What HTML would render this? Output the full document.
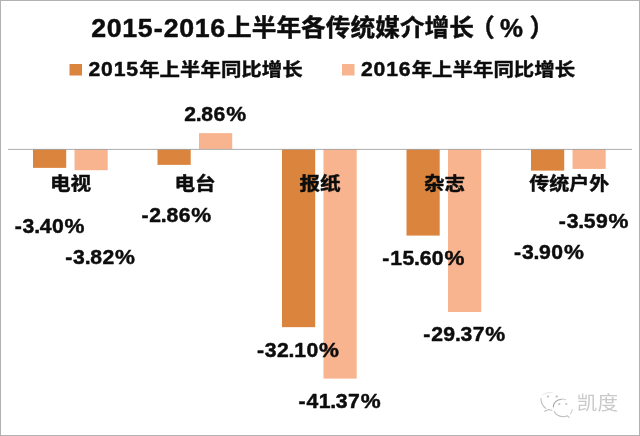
<!DOCTYPE html>
<html lang="zh"><head><meta charset="utf-8"><title>2015-2016上半年各传统媒介增长（%）</title>
<style>html,body{margin:0;padding:0;background:#fff;}svg{display:block;}text{font-family:"Liberation Sans","Noto Sans CJK SC",sans-serif;font-weight:bold;fill:#0d0d0d;}.wm{font-weight:400;fill:#c9c9c9;}</style></head><body>
<svg width="640" height="436" viewBox="0 0 640 436">
<rect x="0" y="0" width="640" height="436" fill="#ffffff"/>
<rect x="0.5" y="0.5" width="639" height="435" fill="none" stroke="#b2b2b2" stroke-width="1"/>
<rect x="33.00" y="149.00" width="33.20" height="18.87" fill="#DB843D"/>
<rect x="74.50" y="149.00" width="33.20" height="21.20" fill="#F8B48E"/>
<rect x="157.50" y="149.00" width="33.20" height="15.87" fill="#DB843D"/>
<rect x="199.00" y="133.13" width="33.20" height="15.87" fill="#F8B48E"/>
<rect x="282.00" y="149.00" width="33.20" height="178.16" fill="#DB843D"/>
<rect x="323.50" y="149.00" width="33.20" height="229.60" fill="#F8B48E"/>
<rect x="406.50" y="149.00" width="33.20" height="86.58" fill="#DB843D"/>
<rect x="448.00" y="149.00" width="33.20" height="163.00" fill="#F8B48E"/>
<rect x="531.00" y="149.00" width="33.20" height="21.64" fill="#DB843D"/>
<rect x="572.50" y="149.00" width="33.20" height="19.92" fill="#F8B48E"/>
<rect x="8" y="148.9" width="624" height="0.9" fill="#a3a3a3"/>
<rect x="69.5" y="64" width="12.5" height="11.5" fill="#DB843D"/>
<rect x="342" y="64" width="12.5" height="11.5" fill="#F8B48E"/>
<text transform="translate(0 36.5) scale(1.07 1.03)" x="85.34 99.82 114.30 128.79 143.69 153.02 167.50 181.99 196.47" y="0" font-size="25" stroke="#0d0d0d" stroke-width="0.45" stroke-linejoin="round">2015-2016</text>
<text transform="translate(227 36) scale(1 0.95)" font-size="24.7" textLength="247.00" lengthAdjust="spacingAndGlyphs" stroke="#0d0d0d" stroke-width="0.45" stroke-linejoin="round">上半年各传统媒介增长</text>
<text transform="translate(470 36.5) scale(1 1)" font-size="24.7" stroke="#0d0d0d" stroke-width="0.45" stroke-linejoin="round">（</text>
<text transform="translate(500 36.5) scale(1 1)" font-size="25.5" textLength="23.00" lengthAdjust="spacingAndGlyphs" stroke="#0d0d0d" stroke-width="0.45" stroke-linejoin="round">%</text>
<text transform="translate(529.5 36.5) scale(1 1)" font-size="24.7" stroke="#0d0d0d" stroke-width="0.45" stroke-linejoin="round">）</text>
<text transform="translate(0 75.5) scale(1.06 1.0)" x="83.41 95.31 107.22 119.12" y="0" font-size="20" stroke="#0d0d0d" stroke-width="0.45" stroke-linejoin="round">2015</text>
<text transform="translate(139.2 76) scale(1 0.89)" font-size="20.3" textLength="163.40" lengthAdjust="spacingAndGlyphs" stroke="#0d0d0d" stroke-width="0.45" stroke-linejoin="round">年上半年同比增长</text>
<text transform="translate(0 75.5) scale(1.06 1.0)" x="340.49 352.39 364.29 376.20" y="0" font-size="20" stroke="#0d0d0d" stroke-width="0.45" stroke-linejoin="round">2016</text>
<text transform="translate(411.7 76) scale(1 0.89)" font-size="20.3" textLength="163.40" lengthAdjust="spacingAndGlyphs" stroke="#0d0d0d" stroke-width="0.45" stroke-linejoin="round">年上半年同比增长</text>
<text transform="translate(70.5 190) scale(1.03 0.92)" font-size="20" text-anchor="middle" stroke="#0d0d0d" stroke-width="0.45" stroke-linejoin="round">电视</text>
<text transform="translate(195.0 190) scale(1.03 0.92)" font-size="20" text-anchor="middle" stroke="#0d0d0d" stroke-width="0.45" stroke-linejoin="round">电台</text>
<text transform="translate(320.0 190) scale(1.03 0.92)" font-size="20" text-anchor="middle" stroke="#0d0d0d" stroke-width="0.45" stroke-linejoin="round">报纸</text>
<text transform="translate(444.6 190) scale(1.03 0.92)" font-size="20" text-anchor="middle" stroke="#0d0d0d" stroke-width="0.45" stroke-linejoin="round">杂志</text>
<text transform="translate(569.3 190) scale(1.0 0.92)" font-size="20" text-anchor="middle" stroke="#0d0d0d" stroke-width="0.45" stroke-linejoin="round">传统户外</text>
<text transform="translate(0 233) scale(1.06 1.0)" x="13.91 21.35 32.22 37.53 49.09" y="0" font-size="20" stroke="#0d0d0d" stroke-width="0.45" stroke-linejoin="round">-3.40</text>
<text transform="translate(64.59 233) scale(1.12 1.0)" font-size="20" stroke="#0d0d0d" stroke-width="0.45" stroke-linejoin="round">%</text>
<text transform="translate(0 263.75) scale(1.06 1.0)" x="61.55 68.99 79.86 85.17 96.73" y="0" font-size="20" stroke="#0d0d0d" stroke-width="0.45" stroke-linejoin="round">-3.82</text>
<text transform="translate(115.09 263.75) scale(1.12 1.0)" font-size="20" stroke="#0d0d0d" stroke-width="0.45" stroke-linejoin="round">%</text>
<text transform="translate(0 221.6) scale(1.06 1.0)" x="133.44 140.88 151.75 157.06 168.61" y="0" font-size="20" stroke="#0d0d0d" stroke-width="0.45" stroke-linejoin="round">-2.86</text>
<text transform="translate(191.29 221.6) scale(1.12 1.0)" font-size="20" stroke="#0d0d0d" stroke-width="0.45" stroke-linejoin="round">%</text>
<text transform="translate(0 120.7) scale(1.06 1.0)" x="173.76 184.63 189.94 201.49" y="0" font-size="20" stroke="#0d0d0d" stroke-width="0.45" stroke-linejoin="round">2.86</text>
<text transform="translate(226.14 120.7) scale(1.12 1.0)" font-size="20" stroke="#0d0d0d" stroke-width="0.45" stroke-linejoin="round">%</text>
<text transform="translate(0 357.3) scale(1.06 1.0)" x="242.40 249.84 261.40 272.27 277.58 289.13" y="0" font-size="20" stroke="#0d0d0d" stroke-width="0.45" stroke-linejoin="round">-32.10</text>
<text transform="translate(319.04 357.3) scale(1.12 1.0)" font-size="20" stroke="#0d0d0d" stroke-width="0.45" stroke-linejoin="round">%</text>
<text transform="translate(0 408.3) scale(1.06 1.0)" x="281.65 289.09 300.64 311.51 316.82 328.38" y="0" font-size="20" stroke="#0d0d0d" stroke-width="0.45" stroke-linejoin="round">-41.37</text>
<text transform="translate(360.64 408.3) scale(1.12 1.0)" font-size="20" stroke="#0d0d0d" stroke-width="0.45" stroke-linejoin="round">%</text>
<text transform="translate(0 264.7) scale(1.06 1.0)" x="360.70 368.14 379.70 390.57 395.88 407.44" y="0" font-size="20" stroke="#0d0d0d" stroke-width="0.45" stroke-linejoin="round">-15.60</text>
<text transform="translate(444.44 264.7) scale(1.12 1.0)" font-size="20" stroke="#0d0d0d" stroke-width="0.45" stroke-linejoin="round">%</text>
<text transform="translate(0 341) scale(1.06 1.0)" x="399.29 406.73 418.28 429.15 434.46 446.02" y="0" font-size="20" stroke="#0d0d0d" stroke-width="0.45" stroke-linejoin="round">-29.37</text>
<text transform="translate(485.34 341) scale(1.12 1.0)" font-size="20" stroke="#0d0d0d" stroke-width="0.45" stroke-linejoin="round">%</text>
<text transform="translate(0 258.9) scale(1.06 1.0)" x="484.95 492.39 503.26 508.57 520.12" y="0" font-size="20" stroke="#0d0d0d" stroke-width="0.45" stroke-linejoin="round">-3.90</text>
<text transform="translate(563.89 258.9) scale(1.12 1.0)" font-size="20" stroke="#0d0d0d" stroke-width="0.45" stroke-linejoin="round">%</text>
<text transform="translate(0 227.6) scale(1.06 1.0)" x="527.12 534.56 545.43 550.74 562.29" y="0" font-size="20" stroke="#0d0d0d" stroke-width="0.45" stroke-linejoin="round">-3.59</text>
<text transform="translate(608.59 227.6) scale(1.12 1.0)" font-size="20" stroke="#0d0d0d" stroke-width="0.45" stroke-linejoin="round">%</text>
<defs><filter id="sb" x="-20%" y="-20%" width="140%" height="140%"><feGaussianBlur stdDeviation="0.35"/></filter></defs>
<g fill="none" stroke="#bdbdbd" stroke-width="1.1" stroke-linecap="round" stroke-linejoin="round" filter="url(#sb)"><path d="M541.0 398.6C540.9 402.6 542.6 406.0 545.8 408.4"/><path d="M544.6 411.3C546.2 410.5 547.4 409.9 548.6 409.5C549.8 409.9 550.8 410.1 551.9 410.2"/><path d="M553.3 407.0C553.6 402.6 556.8 399.6 561.6 399.2" stroke="#a9a9a9"/><path d="M561.6 399.2C563.2 399.1 564.6 399.3 565.8 399.7" stroke="#d4d4d4"/><path d="M554.2 411.6C555.6 414.4 558.8 416.4 562.8 416.7C564.4 416.7 566.0 416.4 567.4 415.8L569.2 417.3"/><path d="M572.3 409.4C572.1 411.0 571.4 412.6 570.3 413.8" stroke="#d4d4d4"/><path d="M543.2 394.6C545.6 392.9 548.8 392.2 552.4 392.3" stroke="#e6e6e6"/></g>
<g fill="#c2c2c2" filter="url(#sb)"><ellipse cx="548" cy="396.5" rx="1.3" ry="0.9"/><ellipse cx="556.7" cy="396.5" rx="1.3" ry="0.9"/><ellipse cx="559.3" cy="403.9" rx="1.1" ry="1"/><ellipse cx="566.3" cy="403.9" rx="1.1" ry="1"/></g>
<text transform="translate(576.8 410.4) scale(1.03 0.95)" font-size="20" class="wm">凯度</text>
</svg></body></html>
